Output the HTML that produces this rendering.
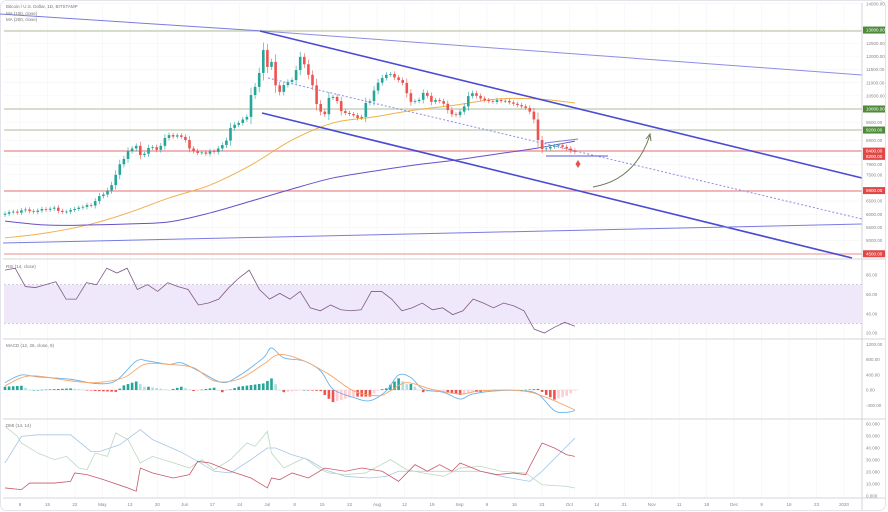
<!DOCTYPE html>
<html><head><meta charset="utf-8">
<style>
html,body{margin:0;padding:0;background:#fff;}
svg{display:block;font-family:"Liberation Sans",sans-serif;}
</style></head>
<body>
<svg id="c" width="888" height="512" viewBox="0 0 888 512">
<rect x="0.5" y="0.5" width="885" height="510" rx="6" fill="#fff" stroke="#e3e5ea"/>
<g id="grid"></g>
<g id="hlines">
<line x1="4" x2="862" y1="31" y2="31" stroke="#c9d2b8" stroke-width="1.5"/>
<line x1="4" x2="862" y1="109" y2="109" stroke="#c9d2b8" stroke-width="1.5"/>
<line x1="4" x2="862" y1="130" y2="130" stroke="#c9d2b8" stroke-width="1.5"/>
<line x1="4" x2="862" y1="151" y2="151" stroke="#f2b5b5" stroke-width="2"/>
<line x1="4" x2="862" y1="191" y2="191" stroke="#ec8f8f" stroke-width="1.2"/>
<line x1="4" x2="862" y1="254" y2="254" stroke="#f2b5b5" stroke-width="1.5"/>
</g>
<g id="ma"></g>
<g id="candles"></g>
<g id="draw">
<line x1="0" y1="14" x2="262" y2="31" stroke="#7b7be0" stroke-width="1"/>
<line x1="262" y1="31" x2="862" y2="75" stroke="#8d8de6" stroke-width="1"/>
<line x1="260" y1="31" x2="862" y2="178" stroke="#4a4ad4" stroke-width="1.6"/>
<line x1="262" y1="113" x2="852" y2="258" stroke="#4a4ad4" stroke-width="1.6"/>
<line x1="3" y1="243" x2="862" y2="224" stroke="#7b7be0" stroke-width="1"/>
<line x1="268" y1="78" x2="862" y2="219" stroke="#8d8de6" stroke-width="1" stroke-dasharray="2,2"/>
<line x1="545" y1="143" x2="578" y2="139" stroke="#7b7be0" stroke-width="1"/>
<line x1="546" y1="156" x2="608" y2="156" stroke="#5a5ad8" stroke-width="1"/>
<path d="M593,187 Q635,180 650,135" fill="none" stroke="#6b7a55" stroke-width="1"/>
<path d="M646,139 L650,134 L651,141" fill="none" stroke="#6b7a55" stroke-width="1"/>
<path d="M578,160 L580.5,164 L578,168 L575.5,164 Z" fill="#e5534b"/>
</g>
<g id="legend" font-size="4.5" fill="#777">
<text x="6" y="8">Bitcoin / U.S. Dollar, 1D, BITSTAMP</text>
<text x="6" y="15">MA (100, close)</text>
<text x="6" y="21">MA (200, close)</text>
<text x="6" y="268">RSI (14, close)</text>
<text x="6" y="347">MACD (12, 26, close, 9)</text>
<text x="6" y="427">DMI (14, 14)</text>
</g>
<g id="panels"></g>
<g id="axis" font-size="4.5" fill="#888"></g>
</svg>
<script>
const NS='http://www.w3.org/2000/svg';
// ---- price data (daily closes) ----
const closes=[6020,6080,6100,6060,6150,6180,6120,6090,6140,6200,6170,6210,6250,6130,6090,6100,6160,6200,6250,6280,6350,6330,6500,6690,6750,6900,7110,7500,7900,8100,8400,8500,8600,8250,8300,8520,8550,8450,8600,8900,9010,8950,9000,8940,8820,8500,8400,8330,8350,8300,8400,8370,8500,8630,8800,9280,9400,9470,9600,9700,10530,10840,11370,12240,11600,11790,10900,10650,10910,11030,11100,11480,11980,11700,11300,10900,10190,9900,9800,10420,10460,10300,9920,9850,9810,9760,9660,9700,10230,10300,10700,11000,11180,11300,11330,11200,11100,10990,10600,10270,10300,10350,10610,10500,10270,10340,10300,10200,9960,9800,9770,9900,10100,10490,10600,10500,10400,10340,10300,10270,10340,10300,10310,10250,10200,10150,10100,10040,9900,9600,8820,8480,8500,8560,8590,8620,8560,8500,8420,8370];
const maIdx=[0,10,20,30,40,50,60,70,80,90,100,110,120,130,139];
const ma100=[5100,5290,5590,6050,6620,7110,7870,8820,9470,9700,9960,10150,10380,10380,10230];
const ma200=[5740,5590,5590,5630,5710,6050,6500,6960,7380,7640,7870,8060,8290,8520,8780];
// ---- RSI ----
const rsiVals=[85,87,68,67,70,73,55,55,72,70,87,82,87,65,70,63,72,68,65,49,51,55,67,77,85,65,55,61,55,63,46,43,49,44,43,44,63,63,55,43,46,51,44,46,39,43,55,51,46,51,48,43,24,20,26,31,27];
// ---- MACD ----
const macdIdx=[0,4,8,16,22,27,32,35,40,43,48,53,57,63,65,68,73,77,80,85,89,93,96,99,102,107,111,114,120,126,130,134,137,139];
const macdVals=[196,395,345,283,171,240,760,760,674,716,457,196,370,847,1108,847,760,500,22,-195,-282,-21,395,326,22,-64,-238,-108,-21,-21,-108,-542,-586,-542];
const sigIdx=[0,6,16,22,29,34,40,46,51,57,63,67,73,79,85,91,94,98,104,111,116,126,132,139];
const sigVals=[109,370,240,196,326,674,674,587,240,283,674,934,760,413,-21,-151,-21,196,22,-108,-21,-21,-195,-525];
// ---- DMI ----
const adxIdx=[0,4,8,16,21,23,28,33,36,43,47,51,55,60,64,66,70,74,78,83,89,93,96,102,111,116,121,128,131,137,139];
const adxVals=[27.5,49.7,51,51,37,37,42.8,55.3,47,36.5,28.9,20.6,19.2,30.3,40,40,34.4,30.3,21.9,16.4,15,16.4,20.6,20.6,20.6,20.6,16.4,12.2,20.6,41.4,48.3];
const mdiIdx=[0,3,4,8,12,15,18,20,22,25,27,30,33,36,40,45,48,51,55,59,61,64,65,68,73,77,79,83,88,94,98,102,107,111,116,121,127,131,137,139];
const mdiVals=[58,49.7,44.2,35.8,30.3,33,23.3,21.9,35.8,33,52.5,47,27.5,33,28.9,23.3,30.3,21.9,30.3,44.2,41.4,53.9,35.8,23.3,31.7,21.9,19.2,17.8,19.2,30.3,21.9,19.2,16.4,23.3,24.7,20.6,19.2,9.4,8,6.7];
const pdiIdx=[0,4,6,12,16,17,20,24,30,32,33,36,41,45,47,50,55,60,64,65,67,70,74,78,83,87,92,96,100,103,106,109,111,116,120,124,127,128,131,134,137,139];
const pdiVals=[6.7,5.3,10.8,10.8,12.2,19.2,17.8,13.6,6.7,4,23.3,19.2,15,17.8,28.9,27.5,20.6,15,6.7,15,13.6,19.2,15,23.3,20.6,23.3,20.6,12.2,26.1,20.6,26.1,20.6,27.5,20.6,17.8,19.2,17.8,24.7,44.2,40,34.4,33];
// ---- axis labels ----
const xLabels=['8','15','22','May','13','20','Jun','17','24','Jul','8','15','22','Aug','12','19','Sep','9','16','23','Oct','14','21','Nov','11','18','Dec','9','16','23','2020'];
const priceTicks=[14500,14000,13000,12500,12000,11500,11000,10500,10000,9500,9200,8800,8400,8200,7900,7500,6900,6500,6000,5500,5000,4500];
const rsiTicks=[80,60,40,20];
const macdTicks=[1200,800,400,0,-400];
const dmiTicks=[60,50,40,30,20,10,0];

const X=i=>5+i*4.1;
const xFromLabel=k=>20+k*(844-20)/(xLabels.length-1);
const Yp=p=>109-(p-10000)/38;
const Yr=v=>333-(v-20)*0.967;
const Ym=v=>390-v*0.038;
const Yd=v=>496-v*1.2;
function mk(t,a,parent){const e=document.createElementNS(NS,t);for(const k in a)e.setAttribute(k,a[k]);parent.appendChild(e);return e;}
const svg=document.getElementById('c');
const grid=document.getElementById('grid');
xLabels.forEach((l,k)=>{const g=mk('line',{x1:xFromLabel(k),x2:xFromLabel(k),y1:4,y2:498,stroke:'#f3f4f6','stroke-width':0.6},grid);

});
priceTicks.forEach(p=>{const g=mk('line',{x1:4,x2:862,y1:Yp(p),y2:Yp(p),stroke:'#f3f4f6','stroke-width':0.6},grid);

});
const panels=document.getElementById('panels');
[259,339,419,498].forEach(y=>{const s=mk('line',{x1:3,x2:885,y1:y,y2:y,stroke:'#d4d6db','stroke-width':1},panels);

});
const ax=mk('line',{x1:862,x2:862,y1:3,y2:510,stroke:'#d4d6db','stroke-width':1},panels);


const band=mk('rect',{x:4,y:Yr(70),width:858,height:Yr(30)-Yr(70),fill:'#efe8fb'},panels);


[70,30].forEach(v=>{const l=mk('line',{x1:4,x2:862,y1:Yr(v),y2:Yr(v),stroke:'#b9b2c9','stroke-width':0.6,'stroke-dasharray':'2,2'},panels);

});
const zl=mk('line',{x1:4,x2:578,y1:Ym(0),y2:Ym(0),stroke:'#cfd2d8','stroke-width':0.6},panels);


const cg=document.getElementById('candles');
closes.forEach((c,i)=>{
 const o=i?closes[i-1]:c-40;const up=c>=o;const col=up?'#26a69a':'#ef5350';
 const hi=Math.max(o,c)+Math.abs(c-o)*0.25+70, lo=Math.min(o,c)-Math.abs(c-o)*0.25-70;
 const w=mk('line',{x1:X(i),x2:X(i),y1:Yp(hi),y2:Yp(lo),stroke:col,'stroke-width':0.6},cg);
 
 
 const b=mk('rect',{x:X(i)-1.3,y:Math.min(Yp(o),Yp(c)),width:2.6,height:Math.max(0.8,Math.abs(Yp(o)-Yp(c))),fill:col},cg);
 
 
});
// Catmull-Rom smoothing
function smooth(pts){let d='M'+pts[0][0]+','+pts[0][1];
 for(let k=0;k<pts.length-1;k++){const p0=pts[k-1]||pts[k],p1=pts[k],p2=pts[k+1],p3=pts[k+2]||p2;
 const c1x=p1[0]+(p2[0]-p0[0])/6,c1y=p1[1]+(p2[1]-p0[1])/6,c2x=p2[0]-(p3[0]-p1[0])/6,c2y=p2[1]-(p3[1]-p1[1])/6;
 d+=' C'+c1x+','+c1y+' '+c2x+','+c2y+' '+p2[0]+','+p2[1];}return d;}
function poly(idx,vals,Y){return vals.map((v,k)=>[X(idx[k]),Y(v)]);}
function interp(idx,vals,i){for(let k=1;k<idx.length;k++){if(i<=idx[k]){const t=(i-idx[k-1])/(idx[k]-idx[k-1]||1);return vals[k-1]+t*(vals[k]-vals[k-1]);}}return vals[vals.length-1];}
const mag=document.getElementById('ma');
let p=mk('path',{d:smooth(poly(maIdx,ma100,Yp)),fill:'none',stroke:'#f0b04a','stroke-width':1},mag);


p=mk('path',{d:smooth(poly(maIdx,ma200,Yp)),fill:'none',stroke:'#6a4fc8','stroke-width':1},mag);


const rsiIdx=rsiVals.map((v,k)=>k*139/(rsiVals.length-1));
p=mk('polyline',{points:poly(rsiIdx,rsiVals,Yr).map(q=>q.join(',')).join(' '),fill:'none',stroke:'#7e5a86','stroke-width':0.8},panels);


let prev=0;
for(let i=0;i<closes.length;i++){
 const h=interp(macdIdx,macdVals,i)-interp(sigIdx,sigVals,i);
 const col=h>=0?(h>=prev?'#26a69a':'#b2dfdb'):(h<=prev?'#ef5350':'#ffcdd2');
 const y0=Ym(0),y1=Ym(h);
 const r=mk('rect',{x:X(i)-1.3,y:Math.min(y0,y1),width:2.6,height:Math.max(0.5,Math.abs(y1-y0)),fill:col},panels);
 
 
 prev=h;
}
p=mk('path',{d:smooth(poly(macdIdx,macdVals,Ym)),fill:'none',stroke:'#6db3e8','stroke-width':0.9},panels);


p=mk('path',{d:smooth(poly(sigIdx,sigVals,Ym)),fill:'none',stroke:'#f5a56a','stroke-width':0.9},panels);


p=mk('polyline',{points:poly(adxIdx,adxVals,Yd).map(q=>q.join(',')).join(' '),fill:'none',stroke:'#a9c6e6','stroke-width':0.8},panels);


p=mk('polyline',{points:poly(mdiIdx,mdiVals,Yd).map(q=>q.join(',')).join(' '),fill:'none',stroke:'#bcd8c0','stroke-width':0.8},panels);


p=mk('polyline',{points:poly(pdiIdx,pdiVals,Yd).map(q=>q.join(',')).join(' '),fill:'none',stroke:'#c9576b','stroke-width':0.8},panels);


const axg=document.getElementById('axis');
xLabels.forEach((l,k)=>{const t=mk('text',{x:xFromLabel(k),y:506,'text-anchor':'middle'},axg);t.textContent=l;

});
const hl={13000:'#4f8a3a',10000:'#4f8a3a',9200:'#4f8a3a',8400:'#e04848',8200:'#e04848',6900:'#e04848',4500:'#e04848'};
priceTicks.forEach(v=>{const y=Yp(v);
 if(hl[v]){const r=mk('rect',{x:863,y:y-3.5,width:22,height:7,fill:hl[v]},axg);
 
 }
 const t=mk('text',{x:866,y:y+1.6,fill:hl[v]?'#fff':'#888'},axg);t.textContent=v.toFixed(2);
 
 });
rsiTicks.forEach(v=>{const t=mk('text',{x:866,y:Yr(v)+1.6},axg);t.textContent=v.toFixed(2);
 
 });
macdTicks.forEach(v=>{const t=mk('text',{x:866,y:Ym(v)+1.6},axg);t.textContent=v.toFixed(2);
 
 });
dmiTicks.forEach(v=>{const t=mk('text',{x:866,y:Yd(v)+1.6},axg);t.textContent=v.toFixed(3);
 
 });
</script>
</body></html>
